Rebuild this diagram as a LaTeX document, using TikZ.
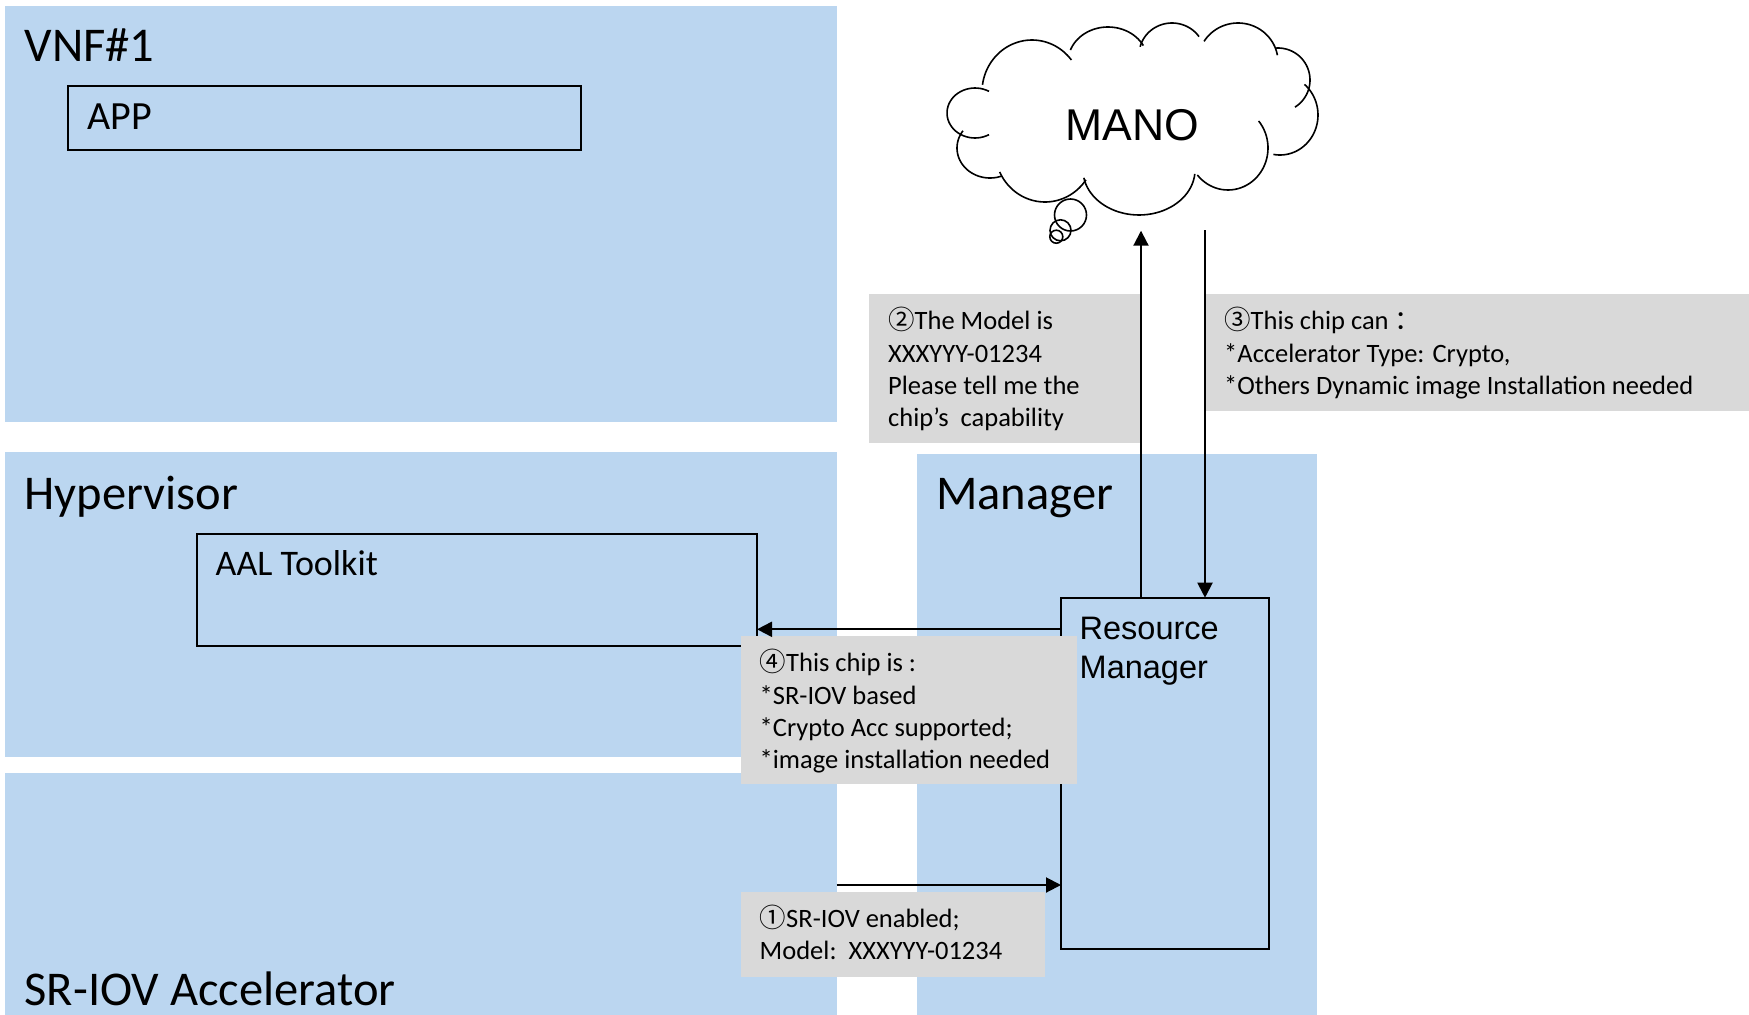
\documentclass[tikz,border=0pt]{standalone}
\usepackage{fontspec}
\setmainfont{Carlito}
\newfontfamily\arialf{Liberation Sans}
\newfontfamily\cjkf{Noto Sans CJK SC}
\usetikzlibrary{arrows.meta}
\definecolor{bluefill}{RGB}{187,214,240}
\definecolor{grayfill}{RGB}{217,217,217}
\tikzset{
  layerbox/.style={fill=bluefill, draw=none, inner sep=0pt, outer sep=0pt, anchor=north west},
  framebox/.style={draw=black, line width=2pt, inner sep=0pt, outer sep=0pt, anchor=north west},
  graybox/.style={fill=grayfill, draw=none, inner sep=0pt, outer sep=0pt, anchor=north west},
  heading/.style={font=\fontsize{48.5}{58}\selectfont, inner sep=0pt, anchor=base west},
  boxtext/.style={font=\fontsize{36}{43}\selectfont, inner sep=0pt, anchor=base west},
  armtext/.style={font=\arialf\fontsize{32.5}{38.5}\selectfont, inner sep=0pt, anchor=north west, align=left},
  labeltext/.style={font=\fontsize{26.5}{32.3}\selectfont, inner sep=0pt, anchor=north west, align=left},
  arr/.style={line width=2pt, -{Triangle[length=15pt,width=15pt]}},
  cloudline/.style={line width=1.6pt}
}
\newcommand{\cd}[1]{{\cjkf #1}}
\begin{document}
\begin{tikzpicture}[x=1pt,y=-1pt]
\useasboundingbox (0,0) rectangle (1749,1015);
% layers
\node[layerbox, minimum width=831.7pt, minimum height=416.1pt] (vnf) at (5,5.6) {};
\node[layerbox, minimum width=831.7pt, minimum height=305pt] (hyp) at (5,451.7) {};
\node[layerbox, minimum width=831.7pt, minimum height=241.7pt] (sriov) at (5,773.3) {};
\node[layerbox, minimum width=400pt, minimum height=561pt] (mgr) at (916.7,454) {};
% headings
\node[heading] (vnft) at (24.5,61) {VNF\#1};
\node[heading] (hypt) at (24.5,509) {Hypervisor};
\node[heading] (sriovt) at (24.5,1005) {SR-IOV Accelerator};
\node[heading] (mgrt) at (936,509) {Manager};
% inner boxes
\node[framebox, minimum width=512.7pt, minimum height=64pt] (app) at (68.3,86) {};
\node[boxtext, font=\fontsize{40}{48}\selectfont] (appt) at (87.5,129.5) {APP};
\node[framebox, minimum width=560.3pt, minimum height=112pt] (aal) at (196.7,534) {};
\node[boxtext] (aalt) at (215.5,575) {AAL Toolkit};
\node[framebox, minimum width=208pt, minimum height=351.6pt] (rm) at (1061,597.7) {};
\node[armtext] (rmt) at (1079.5,609.3) {\rule{0pt}{30pt}Resource\\Manager};
% gray labels
\node[graybox, minimum width=272pt, minimum height=149pt] (g2) at (869,294) {};
\node[labeltext] (g2t) at (888,299.7) {\rule{0pt}{30pt}\cd{②}The Model is\\XXXYYY-01234\\Please tell me the\\chip’s~ capability};
\node[graybox, minimum width=544pt, minimum height=116.7pt] (g3) at (1205,294) {};
\node[labeltext] (g3t) at (1224,299.7) {\rule{0pt}{30pt}\cd{③}This chip can \cd{：}\\*Accelerator Type: Crypto,\\*Others Dynamic image Installation needed};
\node[graybox, minimum width=335.7pt, minimum height=148pt] (g4) at (741,636) {};
\node[labeltext] (g4t) at (759.5,641.7) {\rule{0pt}{30pt}\cd{④}This chip is :\\*SR-IOV based\\*Crypto Acc supported;\\*image installation needed};
\node[graybox, minimum width=304pt, minimum height=85pt] (g1) at (741,891.7) {};
\node[labeltext] (g1t) at (759.5,897.4) {\rule{0pt}{30pt}\cd{①}SR-IOV enabled;\\Model:\hspace{0.45em}XXXYYY-01234};
% cloud (MANO)
\foreach \cx/\cy/\rx/\ry/\a/\b in {
  975/113/28/25/60/300,
  1032/92/50/52/188/322,
  1108/62/40/35/200/332,
  1172/55/33/32/195/325,
  1238/62/40/39/212/350,
  1278/80/32/32/-95/58,
  1280/115/38/40/-50/100,
  1228/148/40/42/-40/140,
  1139/170/56/45/5/170,
  1045/150/50/52/35/155,
  990/148/33/30/70/215}
  \draw[cloudline] plot[domain=\a:\b, samples=40, smooth] ({\cx+\rx*cos(\x)},{\cy+\ry*sin(\x)});
\draw[cloudline] (1070.5,215) circle[radius=16pt];
\draw[cloudline] (1060.5,230.3) circle[radius=10.5pt];
\draw[cloudline] (1056.3,236.7) circle[radius=6.5pt];
\node[font=\arialf\fontsize{44.5}{52}\selectfont, inner sep=0pt, anchor=base] (mano) at (1132,140) {MANO};
% connectors
\coordinate (manoL) at (1141,230.7);
\coordinate (manoR) at (1205,230);
\coordinate (y4) at (0,629.3);
\coordinate (y1) at (0,885);
\draw[arr] (rm.north -| manoL) -- (manoL);
\draw[arr] (manoR) -- (rm.north -| manoR);
\draw[arr] (rm.west |- y4) -- (aal.east |- y4);
\draw[arr] (sriov.east |- y1) -- (rm.west |- y1);
\end{tikzpicture}
\end{document}
